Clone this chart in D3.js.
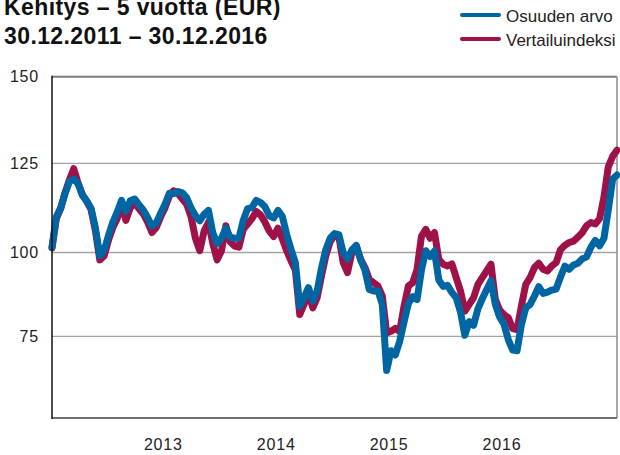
<!DOCTYPE html>
<html>
<head>
<meta charset="utf-8">
<script src="https://cdn.jsdelivr.net/npm/d3@7"></script>
<style>
  html, body { margin: 0; padding: 0; background: #fff; }
  svg { display: block; font-family: "Liberation Sans", Arial, Helvetica, sans-serif; }
</style>
</head>
<body>
<svg id="chart" width="620" height="455"></svg>
<script>
// Chart texts
const titleLines = ["Kehitys \u2013 5 vuotta (EUR)", "30.12.2011 \u2013 30.12.2016"];
const seriesNames = ["Osuuden arvo", "Vertailuindeksi"];

// Axis ticks
const yTicks = [75, 100, 125, 150];
const yearTicks = [2013, 2014, 2015, 2016];

// Period covered (two-week observations)
const startDate = "2011-12-30";
const endDate = "2016-12-30";

// Fund value (Osuuden arvo)
const osuus = [
  101.5, 110.0, 112.5, 116.5, 119.9, 120.6, 119.3, 116.0, 114.4, 112.3,
  106.8, 99.0, 100.6, 104.8, 108.5, 111.3, 114.6, 111.5, 114.5, 115.0,
  113.4, 111.9, 109.8, 107.4, 108.3, 111.0, 113.5, 116.6, 116.5, 117.1,
  116.7, 115.3, 112.5, 110.3, 108.9, 110.7, 111.8, 105.5, 102.5, 104.0,
  106.8, 104.3, 104.0, 104.0, 109.0, 112.3, 112.6, 114.6, 114.0, 112.8,
  110.3, 109.7, 111.8, 110.1, 105.0, 100.9, 97.0, 84.0, 86.5, 89.5,
  85.5, 88.5, 95.3, 100.8, 104.0, 105.3, 105.0, 100.0, 98.0, 100.7,
  102.0, 97.9, 94.8, 89.0, 88.5, 88.6, 84.5, 64.5, 70.6, 69.3,
  73.5, 79.3, 84.8, 86.8, 86.0, 94.7, 100.5, 98.8, 100.4, 91.8,
  89.9, 90.2, 88.1, 86.5, 82.2, 75.3, 79.4, 78.3, 83.2, 86.2,
  88.9, 91.6, 84.5, 80.7, 78.6, 73.9, 70.8, 70.6, 78.4, 83.5,
  84.5, 87.0, 89.8, 87.8, 88.2, 88.8, 89.1, 92.7, 95.9, 95.0,
  96.3, 96.8, 98.1, 98.7, 101.5, 103.4, 101.9, 104.0, 112.0, 120.6,
  121.7
];

// Benchmark index (Vertailuindeksi)
const vertailu = [
  101.3, 109.5, 112.3, 116.8, 120.3, 123.5, 119.5, 116.2, 114.3, 112.0,
  106.0, 97.8, 99.0, 103.5, 107.0, 109.5, 113.5, 109.0, 112.5, 114.0,
  112.3, 110.8, 108.5, 105.6, 107.0, 110.0, 112.5, 115.8, 117.3, 116.5,
  115.0, 113.5, 110.0, 104.0, 100.5, 106.0, 108.5, 102.5, 97.8, 100.5,
  107.5, 103.0, 101.8, 101.5, 106.5, 108.0, 109.5, 111.5, 110.5, 108.5,
  106.0, 104.5, 106.8, 103.8, 100.5, 97.5, 94.8, 81.5, 84.5, 88.0,
  83.5, 86.5, 93.0, 99.0, 103.0, 104.8, 104.5, 97.0, 94.0, 100.0,
  101.8, 98.0, 95.5, 92.0, 91.0, 90.0, 87.0, 76.0, 76.5, 77.4,
  76.5, 84.0, 90.0, 91.0, 95.0, 104.5, 106.5, 104.0, 105.6, 98.0,
  96.5, 96.0, 96.6, 92.5, 88.5, 82.5, 84.5, 86.5, 90.5, 92.5,
  94.5, 96.5, 86.0, 82.8, 81.5, 80.5, 77.3, 77.0, 84.0, 90.5,
  92.5, 95.5, 96.8, 95.0, 94.5, 96.0, 97.0, 100.8, 102.0, 102.8,
  103.2, 104.3, 105.6, 107.5, 108.4, 108.0, 109.5, 115.5, 124.0, 127.0,
  128.8
];

const colors = { osuus: "#0065a3", vertailu: "#9e1149" };

const svg = d3.select("#chart");
const parse = d3.timeParse("%Y-%m-%d");
const t0 = parse(startDate), t1 = parse(endDate);
const n = osuus.length;
const dates = d3.range(n).map(i => new Date(+t0 + i * (t1 - t0) / (n - 1)));

const plot = { left: 52, right: 617, top: 76.7, bottom: 418 };

const x = d3.scaleTime().domain([t0, t1]).range([plot.left, plot.right]);
const y = d3.scaleLinear()
  .domain([50, 75, 100, 125, 150])
  .range([plot.bottom, 336.3, 252.5, 163.3, plot.top]);

// Title (first line runs off the top edge)
svg.append("g").selectAll("text").data(titleLines).join("text")
  .attr("x", 4)
  .attr("y", (d, i) => 14.5 + i * 29.5)
  .attr("font-size", 23)
  .attr("font-weight", "bold")
  .attr("letter-spacing", 0.4)
  .attr("fill", "#111")
  .text(d => d);

// Legend
const legend = svg.append("g");
const legendItems = [
  { name: seriesNames[0], color: colors.osuus, y: 15 },
  { name: seriesNames[1], color: colors.vertailu, y: 39 }
];
legendItems.forEach(it => {
  legend.append("line")
    .attr("x1", 462).attr("x2", 499)
    .attr("y1", it.y).attr("y2", it.y)
    .attr("stroke", it.color).attr("stroke-width", 4)
    .attr("stroke-linecap", "round");
  legend.append("text")
    .attr("x", 506).attr("y", it.y + 6.5)
    .attr("font-size", 17)
    .attr("fill", "#222")
    .text(it.name);
});

// Gridlines
svg.append("g").selectAll("line").data(yTicks.filter(v => v !== 150)).join("line")
  .attr("x1", plot.left).attr("x2", plot.right)
  .attr("y1", d => y(d)).attr("y2", d => y(d))
  .attr("stroke", "#a3a3a3").attr("stroke-width", 1.3);

// Frame
svg.append("line").attr("x1", plot.left).attr("x2", plot.right)
  .attr("y1", plot.top).attr("y2", plot.top)
  .attr("stroke", "#7d7d7d").attr("stroke-width", 2);
svg.append("line").attr("x1", plot.right).attr("x2", plot.right)
  .attr("y1", plot.top).attr("y2", plot.bottom)
  .attr("stroke", "#8a8a8a").attr("stroke-width", 1.5);
svg.append("line").attr("x1", plot.left).attr("x2", plot.right)
  .attr("y1", plot.bottom).attr("y2", plot.bottom)
  .attr("stroke", "#707070").attr("stroke-width", 2);

// Y axis labels
const yAxis = svg.append("g")
  .attr("transform", `translate(${plot.left},0)`)
  .call(d3.axisLeft(y).tickValues(yTicks).tickSize(0).tickPadding(13));
yAxis.select(".domain").remove();
yAxis.selectAll("text")
  .attr("font-size", 16).attr("letter-spacing", 0.8)
  .attr("font-family", "inherit").attr("fill", "#222");

// X axis labels
const xAxis = svg.append("g")
  .attr("transform", `translate(0,${plot.bottom})`)
  .call(d3.axisBottom(x)
    .tickValues(yearTicks.map(yr => new Date(yr, 0, 1)))
    .tickFormat(d3.timeFormat("%Y"))
    .tickSize(0).tickPadding(20.5));
xAxis.select(".domain").remove();
xAxis.selectAll("text")
  .attr("font-size", 16).attr("letter-spacing", 0.8)
  .attr("font-family", "inherit").attr("fill", "#222")
  .attr("dx", -3);

// Series lines: benchmark underneath, fund value on top
const line = d3.line().x((d, i) => x(dates[i])).y(d => y(d));
[[vertailu, colors.vertailu], [osuus, colors.osuus]].forEach(([vals, col]) => {
  svg.append("path")
    .datum(vals)
    .attr("d", line)
    .attr("fill", "none")
    .attr("stroke", col)
    .attr("stroke-width", 7)
    .attr("stroke-linejoin", "round")
    .attr("stroke-linecap", "round");
});

// Left axis line on top
svg.append("line").attr("x1", plot.left).attr("x2", plot.left)
  .attr("y1", plot.top - 1).attr("y2", plot.bottom + 1)
  .attr("stroke", "#111").attr("stroke-width", 1.5);
</script>
</body>
</html>
